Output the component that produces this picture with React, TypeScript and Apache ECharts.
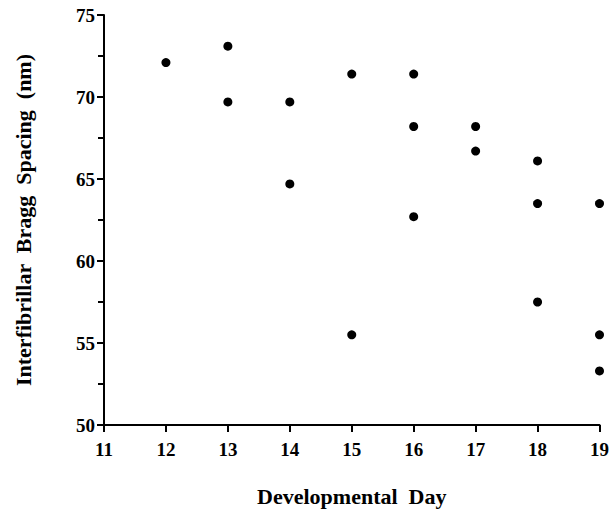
import React, { useEffect, useRef } from "react";
import * as echarts from "echarts";

const days = [12, 13, 13, 14, 14, 15, 15, 16, 16, 16, 17, 17, 18, 18, 18, 19, 19, 19];
const spacing = [72.1, 73.1, 69.7, 69.7, 64.7, 71.4, 55.5, 71.4, 68.2, 62.7, 68.2, 66.7, 66.1, 63.5, 57.5, 63.5, 55.5, 53.3];
const xTitle = "Developmental  Day";
const yTitle = "Interfibrillar  Bragg  Spacing  (nm)";

const FONT = '"Liberation Serif", "Times New Roman", serif';

export default function App() {
  const ref = useRef<HTMLDivElement>(null);
  useEffect(() => {
    document.body.style.margin = "0";
    if (!ref.current) return;
    const chart = echarts.init(ref.current, undefined, { renderer: "svg" });
    const points = days.map((d, i) => [d, spacing[i]]);
    chart.setOption({
      animation: false,
      backgroundColor: "#ffffff",
      grid: { left: 104, right: 12, top: 15, bottom: 86, containLabel: false },
      xAxis: {
        type: "value",
        min: 11,
        max: 19,
        interval: 1,
        name: xTitle,
        nameLocation: "middle",
        nameGap: 60,
        nameTextStyle: { fontFamily: FONT, fontWeight: "bold", fontSize: 22, color: "#000" },
        axisLine: { show: true, lineStyle: { color: "#000", width: 2 } },
        axisTick: { show: true, length: 7, lineStyle: { color: "#000", width: 2 } },
        axisLabel: { margin: 15, fontFamily: FONT, fontWeight: "bold", fontSize: 19, color: "#000" },
        splitLine: { show: false },
      },
      yAxis: {
        type: "value",
        min: 50,
        max: 75,
        interval: 5,
        name: yTitle,
        nameLocation: "middle",
        nameGap: 70,
        nameTextStyle: { fontFamily: FONT, fontWeight: "bold", fontSize: 22, color: "#000" },
        axisLine: { show: true, lineStyle: { color: "#000", width: 2 } },
        axisTick: { show: true, length: 7, lineStyle: { color: "#000", width: 2 } },
        minorTick: { show: true, splitNumber: 2, length: 6, lineStyle: { color: "#000", width: 2 } },
        axisLabel: { margin: 9, fontFamily: FONT, fontWeight: "bold", fontSize: 19, color: "#000" },
        splitLine: { show: false },
        minorSplitLine: { show: false },
      },
      series: [
        {
          type: "scatter",
          data: points,
          symbol: "circle",
          symbolSize: 9,
          itemStyle: { color: "#000", opacity: 1 },
        },
      ],
    });
    return () => chart.dispose();
  }, []);
  return <div ref={ref} style={{ width: 612, height: 512 }} />;
}
